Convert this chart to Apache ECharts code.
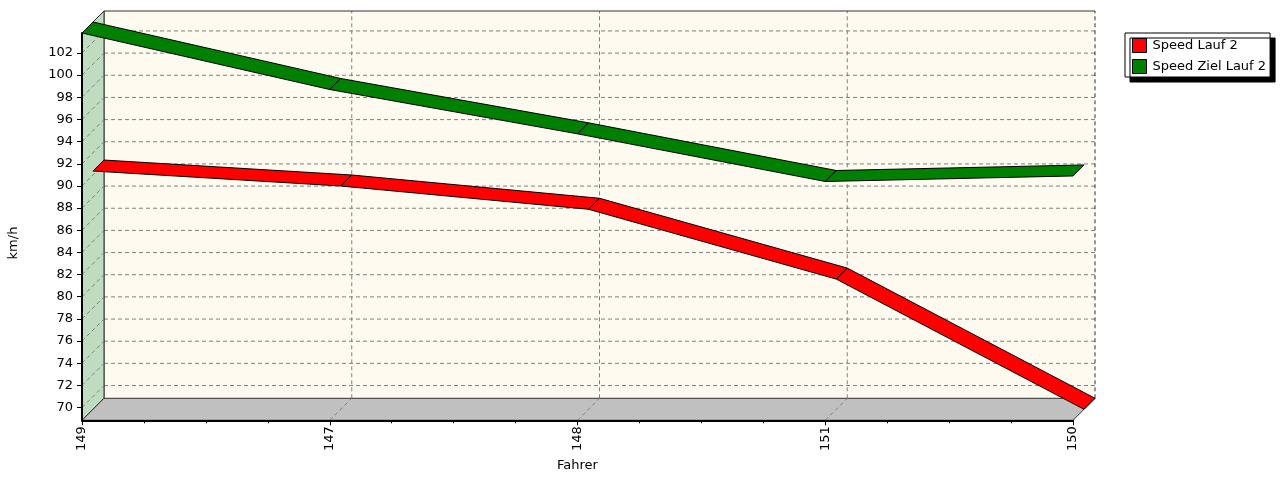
<!DOCTYPE html>
<html>
<head>
<meta charset="utf-8">
<script src="https://cdn.jsdelivr.net/npm/echarts@6/dist/echarts.min.js"></script>
<style>
  html, body { margin: 0; padding: 0; background: #fff; }
  #chart { width: 1280px; height: 477px; }
</style>
</head>
<body>
<div id="chart"></div>
<script>
// data
const drivers = ['149', '147', '148', '151', '150'];
const speedLauf2 = [90.35, 89.0, 86.9, 80.6, 68.85];
const speedZielLauf2 = [103.8, 98.7, 94.7, 90.4, 90.9];
const yTicks = [70, 72, 74, 76, 78, 80, 82, 84, 86, 88, 90, 92, 94, 96, 98, 100, 102];
const yMin = 68.85, yMax = 103.8;

// fake 3d depth in px
const DX = 22, DY = 22;
const FONT = 'DejaVu Sans';
const GRID = '#808080';
const EDGE = '#303030';

const off = (p, f) => [p[0] + f * DX, p[1] - f * DY];
const last = drivers.length - 1;

function dashed(a, b, color) {
  return {
    type: 'line',
    shape: { x1: a[0], y1: a[1], x2: b[0], y2: b[1] },
    style: { stroke: color || GRID, lineWidth: 1, lineDash: [4, 3] },
    silent: true,
  };
}
function solid(a, b) {
  return {
    type: 'line',
    shape: { x1: a[0], y1: a[1], x2: b[0], y2: b[1] },
    style: { stroke: EDGE, lineWidth: 1 },
    silent: true,
  };
}

// walls, floor and back grid
function renderWalls(params, api) {
  const fb = api.coord([0, yMin]), ft = api.coord([0, yMax]);
  const rb = api.coord([last, yMin]), rt = api.coord([last, yMax]);
  const kids = [];
  kids.push({
    type: 'rect',
    shape: { x: off(ft, 1)[0], y: off(ft, 1)[1], width: rt[0] - ft[0], height: fb[1] - ft[1] },
    style: { fill: '#FFFAF0' },
    silent: true,
  });
  yTicks.forEach(v => {
    const p = api.coord([0, v]), q = api.coord([last, v]);
    kids.push(dashed(off(p, 1), off(q, 1)));
  });
  for (let i = 1; i < last; i++) {
    kids.push(dashed(off(api.coord([i, yMin]), 1), off(api.coord([i, yMax]), 1)));
  }
  kids.push(dashed(off(rb, 1), off(rt, 1), EDGE));
  kids.push(solid(off(ft, 1), off(rt, 1)));
  kids.push(solid(off(ft, 1), off(fb, 1)));

  // left wall
  kids.push({
    type: 'polygon',
    shape: { points: [fb, ft, off(ft, 1), off(fb, 1)] },
    style: { fill: '#C0DCC0', stroke: EDGE, lineWidth: 1 },
    silent: true,
  });
  yTicks.forEach(v => {
    const p = api.coord([0, v]);
    kids.push(dashed(p, off(p, 1)));
  });

  // floor
  kids.push({
    type: 'polygon',
    shape: { points: [fb, rb, off(rb, 1), off(fb, 1)] },
    style: { fill: '#C0C0C0', stroke: EDGE, lineWidth: 1 },
    silent: true,
  });
  for (let i = 1; i < last; i++) {
    const p = api.coord([i, yMin]);
    kids.push(dashed(p, off(p, 1)));
  }
  return { type: 'group', children: kids };
}

// ribbon between depth fractions za..zb
function ribbon(values, za, zb) {
  return (params, api) => {
    const i = params.dataIndex;
    if (i >= values.length - 1) return null;
    const p1 = api.coord([i, values[i]]);
    const p2 = api.coord([i + 1, values[i + 1]]);
    return {
      type: 'polygon',
      shape: { points: [off(p1, za), off(p2, za), off(p2, zb), off(p1, zb)] },
      style: { fill: api.visual('color'), stroke: '#000', lineWidth: 1 },
    };
  };
}

const chart = echarts.init(document.getElementById('chart'));

chart.setOption({
  backgroundColor: '#fff',
  animation: false,
  textStyle: { fontFamily: FONT },
  grid: { left: 82, top: 33, width: 991, height: 390, containLabel: false },
  xAxis: {
    type: 'value',
    min: 0,
    max: last,
    interval: 1,
    z: 5,
    name: 'Fahrer',
    nameLocation: 'middle',
    nameGap: 36,
    nameTextStyle: { color: '#000', fontSize: 13, fontFamily: FONT },
    axisLine: { show: true, onZero: false, lineStyle: { color: '#000', width: 2 } },
    axisTick: { show: true, length: 5, lineStyle: { color: '#000' } },
    minorTick: { show: true, splitNumber: 4, length: 3, lineStyle: { color: '#000' } },
    axisLabel: {
      rotate: 90,
      margin: 6,
      color: '#000',
      fontSize: 13,
      fontFamily: FONT,
      formatter: v => drivers[v] || '',
    },
    splitLine: { show: false },
  },
  yAxis: {
    type: 'value',
    min: yMin,
    max: yMax,
    z: 5,
    axisLine: { show: true, onZero: false, lineStyle: { color: '#000', width: 2 } },
    axisTick: { show: true, length: 5, customValues: yTicks, lineStyle: { color: '#000' } },
    axisLabel: { customValues: yTicks, margin: 9, color: '#000', fontSize: 13, fontFamily: FONT },
    splitLine: { show: false },
  },
  legend: {
    orient: 'vertical',
    left: 1125,
    top: 33,
    padding: [5, 4, 3, 7],
    itemWidth: 14,
    itemHeight: 14,
    itemGap: 6,
    icon: 'rect',
    backgroundColor: '#fff',
    borderColor: '#000',
    borderWidth: 1,
    borderRadius: 0,
    shadowColor: '#000',
    shadowOffsetX: 5,
    shadowOffsetY: 5,
    shadowBlur: 0,
    itemStyle: { borderColor: '#000', borderWidth: 1 },
    textStyle: { color: '#000', fontSize: 13, fontFamily: FONT, padding: [0, 0, 0, 1] },
    data: ['Speed Lauf 2', 'Speed Ziel Lauf 2'],
  },
  graphic: [{
    type: 'text',
    x: 14,
    y: 243,
    rotation: Math.PI / 2,
    style: { text: 'km/h', fill: '#000', font: '13px "DejaVu Sans"', align: 'center', verticalAlign: 'middle' },
  }],
  series: [
    {
      type: 'custom',
      name: 'walls',
      z: 1,
      clip: false,
      silent: true,
      renderItem: renderWalls,
      data: [[0, yMin]],
    },
    {
      type: 'custom',
      name: 'Speed Lauf 2',
      z: 2,
      clip: false,
      itemStyle: { color: '#FF0000' },
      renderItem: ribbon(speedLauf2, 0.5, 1),
      data: speedLauf2.map((v, i) => [i, v]),
    },
    {
      type: 'custom',
      name: 'Speed Ziel Lauf 2',
      z: 3,
      clip: false,
      itemStyle: { color: '#008000' },
      renderItem: ribbon(speedZielLauf2, 0, 0.5),
      data: speedZielLauf2.map((v, i) => [i, v]),
    },
  ],
});
</script>
</body>
</html>
